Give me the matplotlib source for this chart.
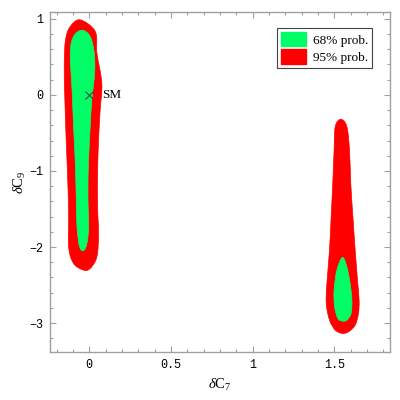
import matplotlib
matplotlib.use("Agg")
import matplotlib.pyplot as plt
from matplotlib.patches import PathPatch, Patch
from matplotlib.path import Path
from matplotlib.ticker import MultipleLocator

plt.rcParams["mathtext.fontset"] = "custom"
plt.rcParams["mathtext.rm"] = "Liberation Serif"
plt.rcParams["mathtext.it"] = "Liberation Serif:italic"

# 95% region, left island (x, y)
red_left_x = [-0.055, 0.037, 0.047, 0.077, 0.067, 0.057, 0.051, 0.051, 0.057, 0.047, 0.006, -0.035,
              -0.096, -0.126, -0.126, -0.133, -0.141, -0.149, -0.153, -0.145, -0.116]
red_left_y = [0.987, 0.833, 0.548, 0.154, -0.197, -0.592, -1.031, -1.469, -1.820, -2.127, -2.281, -2.303,
              -2.215, -1.996, -1.557, -1.031, -0.592, -0.066, 0.373, 0.724, 0.899]
# 68% region, left island
green_left_x = [-0.045, 0.006, 0.031, 0.033, 0.016, 0.006, -0.004, -0.008, -0.004, -0.014, -0.035,
                -0.059, -0.075, -0.080, -0.086, -0.096, -0.104, -0.116, -0.096]
green_left_y = [0.851, 0.768, 0.548, 0.285, -0.066, -0.417, -0.855, -1.294, -1.732, -1.952, -2.048,
                -1.996, -1.732, -1.294, -0.855, -0.417, 0.022, 0.548, 0.768]
# 95% region, right island
red_right_x = [1.539, 1.576, 1.592, 1.600, 1.613, 1.627, 1.641, 1.651, 1.647, 1.627, 1.586, 1.550,
               1.505, 1.470, 1.450, 1.454, 1.470, 1.480, 1.490, 1.498, 1.505]
red_right_y = [-0.320, -0.417, -0.724, -1.162, -1.601, -2.039, -2.434, -2.697, -2.873, -3.026, -3.114, -3.136,
               -3.092, -2.961, -2.741, -2.478, -2.039, -1.601, -1.162, -0.724, -0.417]
# 68% region, right island
green_right_x = [1.549, 1.576, 1.596, 1.607, 1.602, 1.576, 1.549, 1.521, 1.501, 1.498, 1.515]
green_right_y = [-2.136, -2.259, -2.478, -2.697, -2.873, -2.961, -2.974, -2.939, -2.785, -2.566, -2.303]

sm_point = (0.0, 0.0)
x_ticks = [0, 0.5, 1, 1.5]
x_tick_labels = ["0", "0.5", "1", "1.5"]
y_ticks = [-3, -2, -1, 0, 1]
y_tick_labels = ["\u22123", "\u22122", "\u22121", "0", "1"]
legend_labels = ["68% prob.", "95% prob."]

RED = "#ff0000"
GREEN = "#00ff66"
FRAME = "#a0a0a0"


def smooth_closed_path(xs, ys, ax):
    """Closed Catmull-Rom curve through the outline points, drawn as cubic Bezier segments
    in display space so the smoothing is isotropic."""
    pts = ax.transData.transform(list(zip(xs, ys)))
    n = len(pts)
    verts = [tuple(pts[0])]
    codes = [Path.MOVETO]
    for i in range(n):
        p0, p1, p2, p3 = pts[i - 1], pts[i], pts[(i + 1) % n], pts[(i + 2) % n]
        c1 = p1 + (p2 - p0) / 6.0
        c2 = p2 - (p3 - p1) / 6.0
        verts += [tuple(c1), tuple(c2), tuple(p2)]
        codes += [Path.CURVE4] * 3
    verts.append(tuple(pts[0]))
    codes.append(Path.CLOSEPOLY)
    return Path(ax.transData.inverted().transform(verts), codes)


fig = plt.figure(figsize=(4, 4), dpi=100)
ax = fig.add_axes([0.125, 0.12, 0.85, 0.85])
ax.set_xlim(-0.24, 1.84)
ax.set_ylim(-3.38, 1.09)

for xs, ys, c in [(red_left_x, red_left_y, RED), (red_right_x, red_right_y, RED),
                  (green_left_x, green_left_y, GREEN), (green_right_x, green_right_y, GREEN)]:
    ax.add_patch(PathPatch(smooth_closed_path(xs, ys, ax), facecolor=c, edgecolor=c, lw=0.5))

ax.plot([sm_point[0]], [sm_point[1]], marker="x", color="#444444", ms=6, mew=0.8, ls="none")
ax.annotate("SM", sm_point, xytext=(9, 0), textcoords="offset points", va="center", ha="left",
            family="Liberation Serif", fontsize=9.5)

ax.set_xticks(x_ticks)
ax.set_xticklabels(x_tick_labels)
ax.set_yticks(y_ticks)
ax.set_yticklabels(y_tick_labels)
ax.xaxis.set_minor_locator(MultipleLocator(0.1))
ax.yaxis.set_minor_locator(MultipleLocator(0.2))
ax.tick_params(which="both", direction="in", top=True, right=True, color=FRAME, width=0.8)
ax.tick_params(which="major", length=4.5, labelsize=8.5, pad=5)
ax.tick_params(which="minor", length=2.5)
for lab in ax.get_xticklabels() + ax.get_yticklabels():
    lab.set_family("Liberation Mono")
for s in ax.spines.values():
    s.set_color(FRAME)
    s.set_linewidth(1.0)

ax.set_xlabel("$\\delta\\mathrm{C}_7$", fontsize=10.5, labelpad=4)
ax.set_ylabel("$\\delta\\mathrm{C}_9$", fontsize=10.5, labelpad=1)

handles = [Patch(facecolor=GREEN, edgecolor=GREEN), Patch(facecolor=RED, edgecolor=RED)]
leg = ax.legend(handles, legend_labels, loc="upper right", bbox_to_anchor=(0.948, 0.953),
                prop={"family": "Liberation Serif", "size": 9.5}, fancybox=False, framealpha=1,
                edgecolor="#444444", handlelength=1.9, handleheight=1.3, borderpad=0.3,
                labelspacing=0.2, handletextpad=0.5, borderaxespad=0)
leg.get_frame().set_linewidth(0.8)

fig.savefig("out.png", dpi=100)
